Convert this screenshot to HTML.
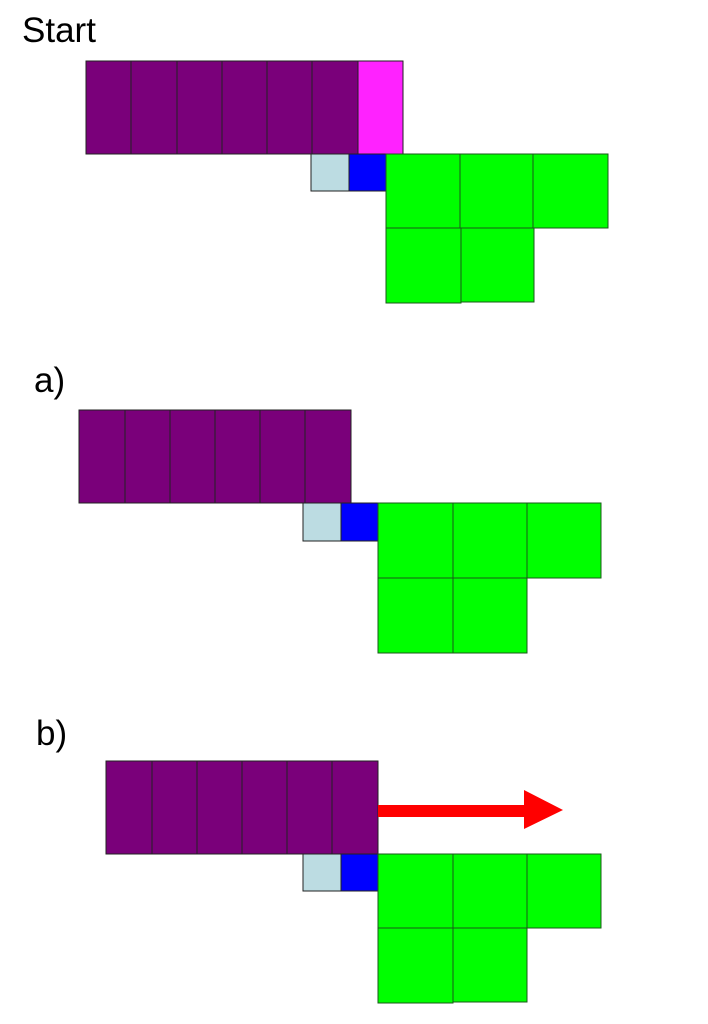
<!DOCTYPE html>
<html><head><meta charset="utf-8"><style>html,body{margin:0;padding:0;background:#fff}</style></head>
<body>
<svg width="708" height="1024" xmlns="http://www.w3.org/2000/svg" style="display:block">
<g font-family="Liberation Sans, sans-serif" font-size="35" fill="#000">
<text x="22" y="42">Start</text>
<text x="34" y="392">a)</text>
<text x="36" y="745">b)</text>
</g>
<g stroke="#222" stroke-width="1">
<!-- Start -->
<g fill="#7a007a">
<rect x="86" y="61" width="45" height="93"/><rect x="131" y="61" width="46" height="93"/><rect x="177" y="61" width="45" height="93"/><rect x="222" y="61" width="45" height="93"/><rect x="267" y="61" width="45" height="93"/><rect x="312" y="61" width="46" height="93"/>
</g>
<rect x="358" y="61" width="45" height="93" fill="#ff22ff"/>
<rect x="311" y="154" width="38" height="37" fill="#bcdce2"/>
<rect x="349" y="154" width="37" height="37" fill="#0000ff"/>
<g fill="#00ff00" stroke="#1a5a1a">
<rect x="386" y="154" width="74" height="74"/><rect x="460" y="154" width="73" height="74"/><rect x="533" y="154" width="75" height="74"/>
<rect x="386" y="228" width="75" height="75"/><rect x="461" y="228" width="73" height="74"/>
</g>
<!-- a -->
<g fill="#7a007a">
<rect x="79" y="410" width="46" height="93"/><rect x="125" y="410" width="45" height="93"/><rect x="170" y="410" width="45" height="93"/><rect x="215" y="410" width="45" height="93"/><rect x="260" y="410" width="45" height="93"/><rect x="305" y="410" width="46" height="93"/>
</g>
<rect x="303" y="503" width="38" height="38" fill="#bcdce2"/>
<rect x="341" y="503" width="37" height="38" fill="#0000ff"/>
<g fill="#00ff00" stroke="#1a5a1a">
<rect x="378" y="503" width="75" height="75"/><rect x="453" y="503" width="74" height="75"/><rect x="527" y="503" width="74" height="75"/>
<rect x="378" y="578" width="75" height="75"/><rect x="453" y="578" width="74" height="75"/>
</g>
<!-- b -->
<g fill="#7a007a">
<rect x="106" y="761" width="46" height="93"/><rect x="152" y="761" width="45" height="93"/><rect x="197" y="761" width="45" height="93"/><rect x="242" y="761" width="45" height="93"/><rect x="287" y="761" width="45" height="93"/><rect x="332" y="761" width="46" height="93"/>
</g>
<rect x="303" y="854" width="38" height="37" fill="#bcdce2"/>
<rect x="341" y="854" width="37" height="37" fill="#0000ff"/>
<g fill="#00ff00" stroke="#1a5a1a">
<rect x="378" y="854" width="75" height="74"/><rect x="453" y="854" width="74" height="74"/><rect x="527" y="854" width="74" height="74"/>
<rect x="378" y="928" width="75" height="75"/><rect x="453" y="928" width="74" height="74"/>
</g>
</g>
<polygon points="378,805 524,805 524,790 563,810 524,829 524,817 378,817" fill="#ff0000"/>
</svg>
</body></html>
